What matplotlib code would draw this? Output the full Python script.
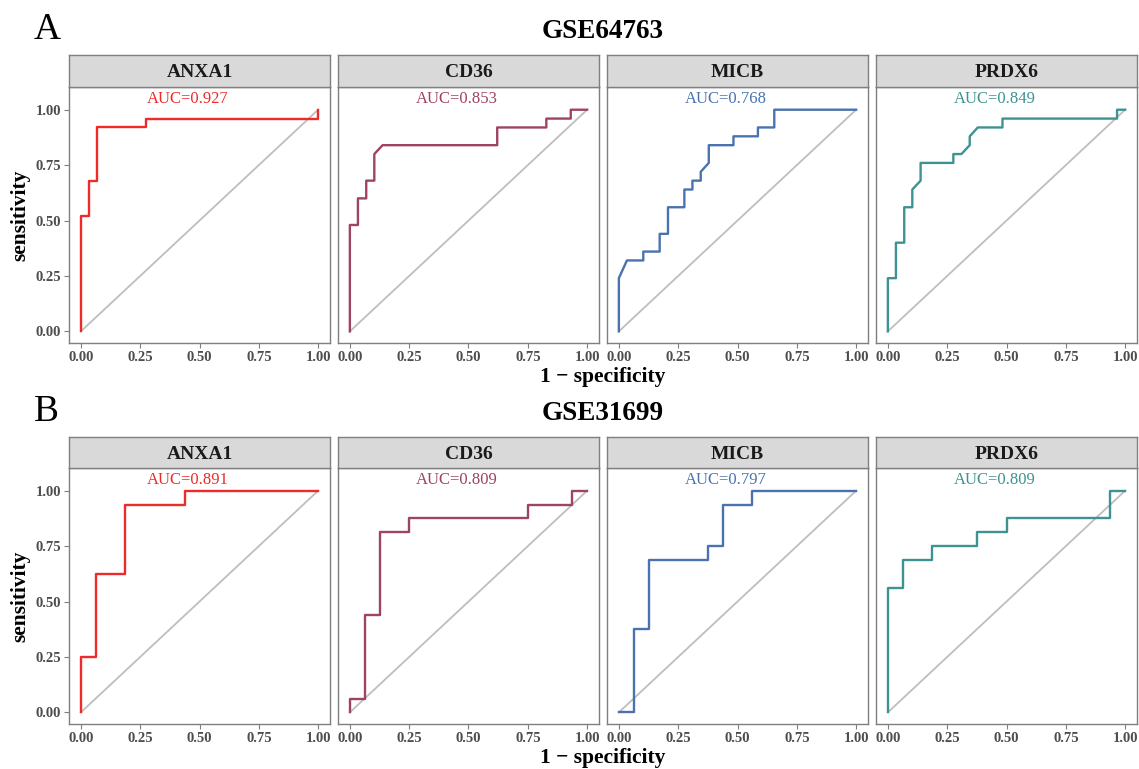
import matplotlib
matplotlib.use("Agg")
import matplotlib.pyplot as plt

plt.rcParams['font.family'] = ['Liberation Serif', 'DejaVu Serif']

genes = ["ANXA1", "CD36", "MICB", "PRDX6"]
colors = ["#EE2A2A", "#9E4361", "#4A72AE", "#3C9391"]
datasets = ["GSE64763", "GSE31699"]
panel_letters = ["A", "B"]

# ROC curves: (1 - specificity, sensitivity)
gse64763_fpr = {
    "ANXA1": [0, 0, 0.034, 0.034, 0.069, 0.069, 0.276, 0.276, 1.0, 1.0],
    "CD36": [0, 0, 0.034, 0.034, 0.069, 0.069, 0.103, 0.103, 0.138, 0.621, 0.621, 0.828, 0.828, 0.931, 0.931, 1.0],
    "MICB": [0, 0, 0.034, 0.103, 0.103, 0.172, 0.172, 0.207, 0.207, 0.276, 0.276, 0.310, 0.310, 0.345, 0.345, 0.379, 0.379,
             0.483, 0.483, 0.586, 0.586, 0.655, 0.655, 1.0],
    "PRDX6": [0, 0, 0.034, 0.034, 0.069, 0.069, 0.103, 0.103, 0.138, 0.138, 0.276, 0.276, 0.310, 0.345, 0.345, 0.379,
              0.483, 0.483, 0.966, 0.966, 1.0],
}
gse64763_tpr = {
    "ANXA1": [0, 0.52, 0.52, 0.68, 0.68, 0.92, 0.92, 0.96, 0.96, 1.0],
    "CD36": [0, 0.48, 0.48, 0.60, 0.60, 0.68, 0.68, 0.80, 0.84, 0.84, 0.92, 0.92, 0.96, 0.96, 1.0, 1.0],
    "MICB": [0, 0.24, 0.32, 0.32, 0.36, 0.36, 0.44, 0.44, 0.56, 0.56, 0.64, 0.64, 0.68, 0.68, 0.72, 0.76, 0.84,
             0.84, 0.88, 0.88, 0.92, 0.92, 1.0, 1.0],
    "PRDX6": [0, 0.24, 0.24, 0.40, 0.40, 0.56, 0.56, 0.64, 0.68, 0.76, 0.76, 0.80, 0.80, 0.84, 0.88, 0.92,
              0.92, 0.96, 0.96, 1.0, 1.0],
}
gse31699_fpr = {
    "ANXA1": [0, 0, 0.0625, 0.0625, 0.1875, 0.1875, 0.4375, 0.4375, 1.0],
    "CD36": [0, 0, 0.0625, 0.0625, 0.125, 0.125, 0.25, 0.25, 0.75, 0.75, 0.9375, 0.9375, 1.0],
    "MICB": [0, 0.0625, 0.0625, 0.125, 0.125, 0.375, 0.375, 0.4375, 0.4375, 0.5625, 0.5625, 1.0],
    "PRDX6": [0, 0, 0.0625, 0.0625, 0.1875, 0.1875, 0.375, 0.375, 0.5, 0.5, 0.9375, 0.9375, 1.0],
}
gse31699_tpr = {
    "ANXA1": [0, 0.25, 0.25, 0.625, 0.625, 0.9375, 0.9375, 1.0, 1.0],
    "CD36": [0, 0.0625, 0.0625, 0.4375, 0.4375, 0.8125, 0.8125, 0.875, 0.875, 0.9375, 0.9375, 1.0, 1.0],
    "MICB": [0, 0, 0.375, 0.375, 0.6875, 0.6875, 0.75, 0.75, 0.9375, 0.9375, 1.0, 1.0],
    "PRDX6": [0, 0.5625, 0.5625, 0.6875, 0.6875, 0.75, 0.75, 0.8125, 0.8125, 0.875, 0.875, 1.0, 1.0],
}
auc_values = [[0.927, 0.853, 0.768, 0.849], [0.891, 0.809, 0.797, 0.809]]
all_fpr = [gse64763_fpr, gse31699_fpr]
all_tpr = [gse64763_tpr, gse31699_tpr]

ticks = [0, 0.25, 0.5, 0.75, 1.0]
tick_labels = ["0.00", "0.25", "0.50", "0.75", "1.00"]

W, H = 1139, 769
fig = plt.figure(figsize=(W / 100, H / 100), dpi=100)

panel_left = [69, 338, 607, 876]
panel_w = 261
# (strip top, panel top, panel bottom) in pixels from the top
rows = [(55, 87, 343), (437, 468, 724)]
border = "#7F7F7F"
tick_col = "#4D4D4D"

for r in range(2):
    s_top, p_top, p_bot = rows[r]
    for c, g in enumerate(genes):
        x0 = panel_left[c]
        ax = fig.add_axes([x0 / W, 1 - p_bot / H, panel_w / W, (p_bot - p_top) / H])
        ax.plot([0, 1], [0, 1], color="#BEBEBE", lw=1.3, zorder=1)
        ax.plot(all_fpr[r][g], all_tpr[r][g], color=colors[c], lw=1.7, zorder=2)
        ax.text(0.45, 1.05, "AUC=%.3f" % auc_values[r][c], color=colors[c],
                ha="center", va="center", fontsize=12)
        ax.set_xlim(-0.05, 1.05)
        ax.set_ylim(-0.0525, 1.1025)
        ax.set_xticks(ticks)
        ax.set_xticklabels(tick_labels, fontsize=10.5, fontweight="bold", color=tick_col)
        ax.set_yticks(ticks)
        if c == 0:
            ax.set_yticklabels(tick_labels, fontsize=10.5, fontweight="bold", color=tick_col)
        else:
            ax.tick_params(axis="y", left=False, labelleft=False)
        ax.tick_params(length=3.5, width=0.8, color=border, pad=2)
        for sp in ax.spines.values():
            sp.set_color(border)
            sp.set_linewidth(1.0)

        sax = fig.add_axes([x0 / W, 1 - p_top / H, panel_w / W, (p_top - s_top) / H])
        sax.set_facecolor("#D9D9D9")
        sax.set_xticks([])
        sax.set_yticks([])
        for sp in sax.spines.values():
            sp.set_color(border)
            sp.set_linewidth(1.0)
        sax.text(0.5, 0.45, g, ha="center", va="center", fontsize=14,
                 fontweight="bold", color="#1A1A1A", transform=sax.transAxes)

    fig.text(603 / W, 1 - (s_top - 23) / H, datasets[r], ha="center", va="center",
             fontsize=19.5, fontweight="bold")
    fig.text(34 / W, 1 - (s_top - 25) / H, panel_letters[r], ha="left", va="center",
             fontsize=27)
    fig.text(603 / W, 1 - (p_bot + 34) / H, "1 \u2212 specificity", ha="center", va="center",
             fontsize=15.5, fontweight="bold")
    fig.text(20 / W, 1 - ((p_top + p_bot) / 2) / H, "sensitivity", ha="center", va="center",
             rotation=90, fontsize=15.5, fontweight="bold")

fig.savefig("out.png", dpi=100)
